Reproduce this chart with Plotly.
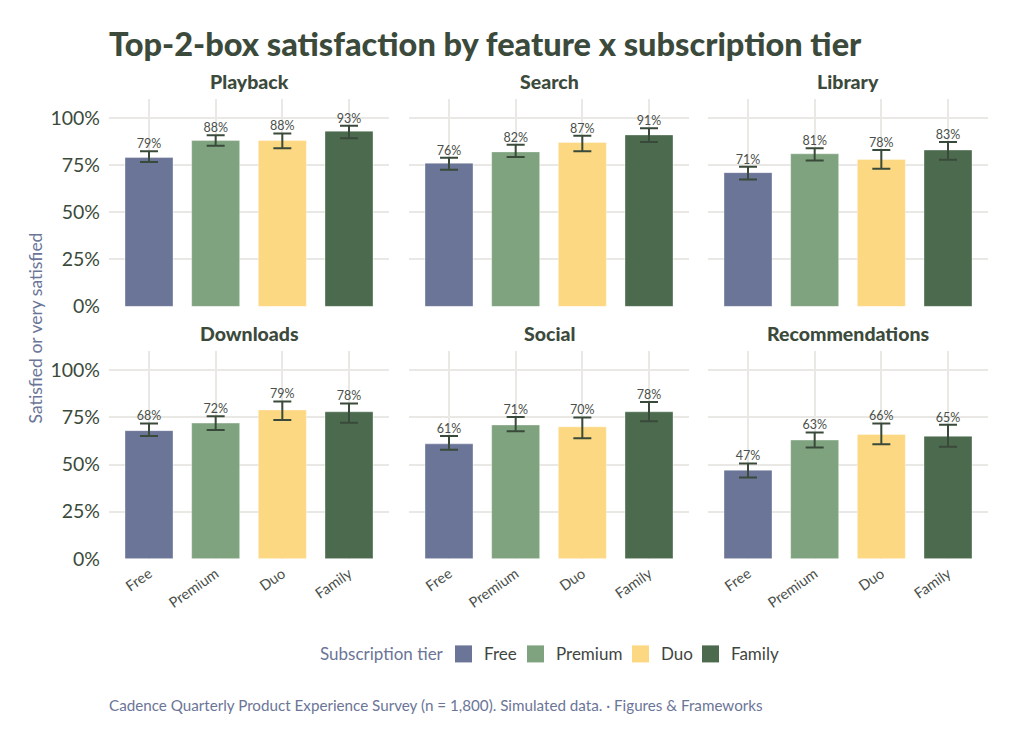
import plotly.graph_objects as go

features = ["Playback", "Search", "Library", "Downloads", "Social", "Recommendations"]
tiers = ["Free", "Premium", "Duo", "Family"]

values = {
    "Playback": [79, 88, 88, 93],
    "Search": [76, 82, 87, 91],
    "Library": [71, 81, 78, 83],
    "Downloads": [68, 72, 79, 78],
    "Social": [61, 71, 70, 78],
    "Recommendations": [47, 63, 66, 65],
}
lower = {
    "Playback": [76.6, 85.3, 83.9, 89.2],
    "Search": [72.5, 79.3, 82.4, 87.2],
    "Library": [67.4, 77.5, 73.0, 77.8],
    "Downloads": [65.1, 68.3, 73.6, 72.2],
    "Social": [57.8, 67.7, 64.0, 73.0],
    "Recommendations": [43.1, 59.0, 60.8, 59.4],
}
upper = {
    "Playback": [82.4, 90.8, 91.8, 95.9],
    "Search": [78.9, 85.8, 90.6, 94.5],
    "Library": [74.1, 84.0, 83.0, 87.2],
    "Downloads": [71.8, 75.7, 83.5, 82.4],
    "Social": [65.1, 75.2, 75.0, 83.2],
    "Recommendations": [50.5, 67.0, 71.8, 71.1],
}
y_ticks = [0, 25, 50, 75, 100]
y_ticklabels = ["0%", "25%", "50%", "75%", "100%"]

colors = {"Free": "#6B7597", "Premium": "#7FA27F", "Duo": "#FDD882", "Family": "#4C6B4E"}
W, H = 1024, 731
HS = 719.0  # effective vertical scale used for paper conversions
FONT = "Lato"
DARK = "#3B4A3B"
SLATE = "#6B7597"
GRID = "#EAE8E5"


def py(y):
    return 1 - y / HS


col_px = [(109, 389), (409, 689), (708, 988)]
row_px = [(99, 306), (351, 558)]

fig = go.Figure()
layout_axes = {}
annotations = []
shapes = []

for i, feat in enumerate(features):
    r, c = divmod(i, 3)
    idx = i + 1
    xa = "x" if idx == 1 else f"x{idx}"
    ya = "y" if idx == 1 else f"y{idx}"
    vals = values[feat]
    for j, t in enumerate(tiers):
        fig.add_trace(go.Bar(
            x=[t], y=[vals[j]], xaxis=xa, yaxis=ya,
            marker=dict(color=colors[t], line=dict(color="rgba(255,255,255,0.6)", width=0.6)),
            width=0.72, name=t, showlegend=False,
            error_y=dict(type="data", symmetric=False,
                         array=[upper[feat][j] - vals[j]],
                         arrayminus=[vals[j] - lower[feat][j]],
                         color="#3A4A3A", thickness=2, width=9),
            hoverinfo="skip",
        ))
    fig.add_trace(go.Scatter(
        x=tiers, y=upper[feat], xaxis=xa, yaxis=ya, mode="text",
        text=[f"{v}%" for v in vals], textposition="top center",
        textfont=dict(family=FONT, size=12.5, color="#4A4F4A"),
        showlegend=False, hoverinfo="skip",
    ))
    x0, x1 = col_px[c]
    yt, yb = row_px[r]
    xkey = "xaxis" if idx == 1 else f"xaxis{idx}"
    ykey = "yaxis" if idx == 1 else f"yaxis{idx}"
    layout_axes[xkey] = dict(
        domain=[x0 / W, x1 / W], anchor=ya, type="category",
        categoryorder="array", categoryarray=tiers,
        range=[-0.6, 3.6], showgrid=True, gridcolor=GRID, gridwidth=1.6,
        showticklabels=(r == 1), tickangle=-35, ticklabelstandoff=3,
        tickfont=dict(family=FONT, size=14.5, color="#4A4F4A"),
        zeroline=False, showline=False, ticks="",
    )
    layout_axes[ykey] = dict(
        domain=[py(yb), py(yt)], anchor=xa, range=[0, 110],
        tickvals=y_ticks, ticktext=y_ticklabels,
        showgrid=True, gridcolor=GRID, gridwidth=1.6,
        showticklabels=(c == 0), zeroline=False, showline=False,
        ticklabelstandoff=8,
        tickfont=dict(family=FONT, size=19.5, color=DARK), ticks="",
    )
    annotations.append(dict(
        text=feat, xref="paper", yref="paper",
        x=(x0 + x1) / 2 / W, y=py(yt), yanchor="bottom", xanchor="center",
        yshift=4, showarrow=False,
        font=dict(family=FONT, size=19.5, color=DARK, weight=900),
    ))

annotations.append(dict(
    text="Satisfied or very satisfied", xref="paper", yref="paper",
    x=35 / W, y=py(328), textangle=-90, showarrow=False,
    xanchor="center", yanchor="middle",
    font=dict(family=FONT, size=17.5, color=SLATE),
))
annotations.append(dict(
    text="Cadence Quarterly Product Experience Survey (n = 1,800). Simulated data. · Figures & Frameworks",
    xref="paper", yref="paper", x=107 / W, y=py(704),
    xanchor="left", yanchor="middle", showarrow=False,
    font=dict(family=FONT, size=15.2, color=SLATE),
))

# Legend (built from the tier list and colours)
legend_y = 653
legend_box_x = [455, 527, 632, 702]
annotations.append(dict(
    text="Subscription tier", xref="paper", yref="paper", x=446 / W, y=py(legend_y),
    xanchor="right", yanchor="middle", showarrow=False,
    font=dict(family=FONT, size=17, color=SLATE),
))
for t, bx in zip(tiers, legend_box_x):
    shapes.append(dict(type="rect", xref="paper", yref="paper",
                       x0=bx / W, x1=(bx + 17) / W,
                       y0=py(legend_y + 8.5), y1=py(legend_y - 8.5),
                       fillcolor=colors[t], line=dict(width=0)))
    annotations.append(dict(
        text=t, xref="paper", yref="paper", x=(bx + 27) / W, y=py(legend_y),
        xanchor="left", yanchor="middle", showarrow=False,
        font=dict(family=FONT, size=17, color="#3F463F"),
    ))

fig.update_layout(
    width=W, height=H, margin=dict(l=0, r=0, t=0, b=0),
    paper_bgcolor="white", plot_bgcolor="white",
    barmode="overlay", showlegend=False,
    title=dict(text="Top-2-box satisfaction by feature x subscription tier",
               xref="paper", yref="paper", x=109 / W, xanchor="left",
               y=py(45), yanchor="middle",
               font=dict(family=FONT, size=32.5, color=DARK, weight=900)),
    annotations=annotations,
    shapes=shapes,
    **layout_axes,
)

fig.write_html("out.html")
